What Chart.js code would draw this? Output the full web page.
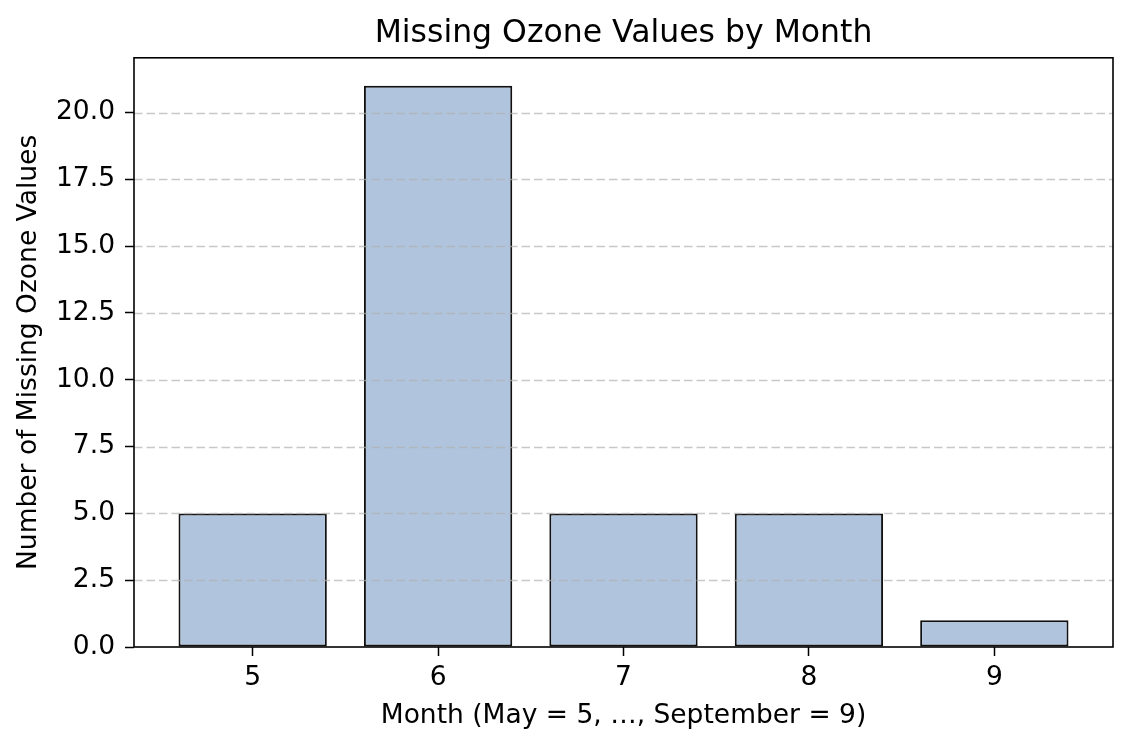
<!DOCTYPE html>
<html>
<head>
<meta charset="utf-8">
<title>Missing Ozone Values by Month</title>
<script src="https://cdn.jsdelivr.net/npm/chart.js@4"></script>
<style>
  html, body { margin: 0; padding: 0; background: #fff; }
  #chart { display: block; }
</style>
</head>
<body>
<canvas id="chart" width="1132" height="748"></canvas>
<script>
// ── Data ──────────────────────────────────────────────────────────────────────
const months        = [5, 6, 7, 8, 9];
const missingCounts = [5, 21, 5, 5, 1];
const yTicks        = [0, 2.5, 5, 7.5, 10, 12.5, 15, 17.5, 20];

const TITLE   = 'Missing Ozone Values by Month';
const X_LABEL = 'Month (May = 5, …, September = 9)';
const Y_LABEL = 'Number of Missing Ozone Values';

// ── Style ─────────────────────────────────────────────────────────────────────
const FONT      = '"DejaVu Sans", "Liberation Sans", sans-serif';
const BAR_FILL  = '#b0c4de';
const GRID_CLR  = 'rgba(176,176,176,0.7)';

Chart.defaults.color = '#000';
Chart.defaults.font.family = FONT;

// title centred over the plot area; grid over the bars, then the four spines
const frameAndGrid = {
  id: 'frameAndGrid',
  afterLayout(chart) {
    const t = chart.titleBlock;
    if (t) { t.left = chart.chartArea.left; t.right = chart.chartArea.right; }
  },
  afterDatasetsDraw(chart) {
    const { ctx, chartArea: a, scales: { y } } = chart;
    ctx.save();
    ctx.strokeStyle = GRID_CLR;
    ctx.lineWidth = 1.6;
    ctx.setLineDash([8.5, 4]);
    yTicks.forEach(v => {
      if (v === 0) return;
      const py = Math.round(y.getPixelForValue(v)) + 0.5;
      ctx.beginPath();
      ctx.moveTo(a.left, py);
      ctx.lineTo(a.right, py);
      ctx.stroke();
    });
    ctx.setLineDash([]);
    ctx.strokeStyle = '#000';
    ctx.lineWidth = 1.6;
    ctx.strokeRect(a.left, a.top, a.right - a.left, a.bottom - a.top);
    ctx.restore();
  }
};

new Chart(document.getElementById('chart').getContext('2d'), {
  type: 'bar',
  data: {
    datasets: [{
      data: months.map((m, i) => ({ x: m, y: missingCounts[i] })),
      backgroundColor: BAR_FILL,
      borderColor: '#111',
      borderWidth: 2,
      borderSkipped: false,
      barPercentage: 0.8,
      categoryPercentage: 1.0,
    }]
  },
  options: {
    responsive: false,
    animation: false,
    layout: { padding: { left: 0, right: 19, top: 0, bottom: 0 } },
    plugins: {
      legend: { display: false },
      tooltip: { enabled: false },
      title: {
        display: true,
        text: TITLE,
        font: { size: 31.5, weight: 'normal', lineHeight: 1.2 },
        padding: { top: 15, bottom: 5 },
      },
    },
    scales: {
      x: {
        type: 'linear',
        offset: false,
        min: months[0] - 0.64,
        max: months[months.length - 1] + 0.64,
        afterBuildTicks: s => { s.ticks = months.map(v => ({ value: v })); },
        afterFit: s => { s.height = 101; },
        grid: { display: true, drawOnChartArea: false, offset: false, drawTicks: true, tickLength: 9, tickWidth: 1.5, tickColor: '#000' },
        border: { display: false },
        ticks: { font: { size: 26.5, lineHeight: 1.2 }, padding: 6, maxRotation: 0, callback: v => String(v) },
        title: { display: true, text: X_LABEL, font: { size: 26.5, lineHeight: 1.2 }, padding: { top: 0, bottom: 16 } },
      },
      y: {
        min: 0,
        max: 22.05,
        afterBuildTicks: s => { s.ticks = yTicks.map(v => ({ value: v })); },
        afterFit: s => { s.width = 134; },
        grid: { display: true, drawOnChartArea: false, drawTicks: true, tickLength: 9, tickWidth: 1.5, tickColor: '#000' },
        border: { display: false },
        ticks: { font: { size: 26.5, lineHeight: 1.2 }, padding: 10, callback: v => v.toFixed(1) },
        title: { display: true, text: Y_LABEL, font: { size: 26.5, lineHeight: 1.2 }, padding: { top: 13, bottom: 0 } },
      },
    },
  },
  plugins: [frameAndGrid],
});
</script>
</body>
</html>
